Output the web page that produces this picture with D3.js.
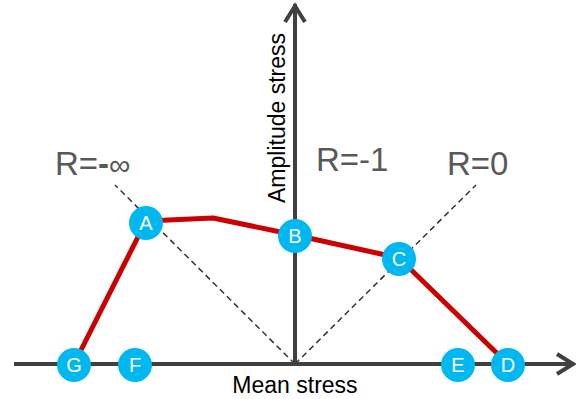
<!DOCTYPE html>
<html>
<head>
<meta charset="utf-8">
<script src="https://cdn.jsdelivr.net/npm/d3@7"></script>
<style>
  html, body { margin: 0; padding: 0; background: #fff; }
  svg { display: block; font-family: "Liberation Sans", Arial, sans-serif; }
</style>
</head>
<body>
<svg id="chart" width="576" height="399"></svg>
<script>
// Haigh diagram: mean stress (x) vs amplitude stress (y), origin at R = -1 axis
const limitPoints = [          // fatigue limit line, left to right
  { x: -2.21, y: 0.00 },       // G
  { x: -1.49, y: 1.43 },       // A
  { x: -0.82, y: 1.46 },
  { x:  0.00, y: 1.29 },       // B
  { x:  1.04, y: 1.06 },       // C
  { x:  2.13, y: 0.00 }        // D
];
const markerLabels = ["A", "B", "C", "D", "E", "F", "G"];
const markerX = [-1.49, 0.00, 1.04, 2.13, 1.63, -1.60, -2.21];
const markerY = [ 1.42, 1.29, 1.06, 0.00, 0.00,  0.00,  0.00];
const ratioLines = [           // constant stress-ratio rays from the origin
  { x: -1.80, y: 1.79 },
  { x:  1.81, y: 1.79 }
];
const ratioLabels = ["R=-∞", "R=-1", "R=0"];
const ratioLabelX = [-2.40, 0.21, 1.52];
const ratioLabelY = [ 1.89, 1.93, 1.89];
const xTitle = "Mean stress";
const yTitle = "Amplitude stress";

const svg = d3.select("#chart");
const x = d3.scaleLinear().domain([-2.81, 2.80]).range([14, 575]);
const y = d3.scaleLinear().domain([0, 3.61]).range([364, 3]);

const axisColor = "#404040";

// dashed R rays
svg.append("g").selectAll("line").data(ratioLines).join("line")
  .attr("x1", x(0)).attr("y1", y(0))
  .attr("x2", d => x(d.x)).attr("y2", d => y(d.y))
  .attr("stroke", "#333").attr("stroke-width", 1.5)
  .attr("stroke-dasharray", "6,4");

// axes with arrow heads
const axes = svg.append("g").attr("stroke", axisColor).attr("stroke-width", 4)
  .attr("fill", "none").attr("stroke-linecap", "butt");
axes.append("line").attr("x1", x(-2.81)).attr("y1", y(0)).attr("x2", x(2.79)).attr("y2", y(0));
axes.append("path").attr("stroke-linejoin", "miter")
  .attr("d", `M${x(2.80) - 18},${y(0) - 10}L${x(2.80) - 2},${y(0)}L${x(2.80) - 18},${y(0) + 10}`);
axes.append("line").attr("x1", x(0)).attr("y1", y(0) + 2).attr("x2", x(0)).attr("y2", y(3.60));
axes.append("path").attr("stroke-linejoin", "miter")
  .attr("d", `M${x(0) - 10},${y(3.61) + 19}L${x(0)},${y(3.61) + 3}L${x(0) + 10},${y(3.61) + 19}`);

// fatigue limit line
svg.append("path").datum(limitPoints)
  .attr("d", d3.line().x(d => x(d.x)).y(d => y(d.y)))
  .attr("fill", "none").attr("stroke", "#CC0000").attr("stroke-width", 5)
  .attr("stroke-linejoin", "round");

// labelled markers
const markers = svg.append("g").selectAll("g").data(markerLabels).join("g")
  .attr("transform", (d, i) => `translate(${x(markerX[i])},${y(markerY[i]) + 1})`);
markers.append("circle").attr("r", 17).attr("fill", "#00B8F0");
markers.append("text").text(d => d)
  .attr("text-anchor", "middle").attr("dy", "0.36em")
  .attr("fill", "#fff").attr("font-size", 20);

// R labels
svg.append("g").selectAll("text").data(ratioLabels).join("text")
  .attr("x", (d, i) => x(ratioLabelX[i])).attr("y", (d, i) => y(ratioLabelY[i]))
  .attr("fill", "#595959").attr("font-size", 33)
  .each(function (d) {
    const t = d3.select(this);
    if (d.includes("∞")) {
      t.append("tspan").text("R=");
      t.append("tspan").text("-").attr("font-weight", "bold");
      t.append("tspan").text("∞").attr("font-size", 30);
    } else {
      t.text(d);
    }
  });

// axis titles
svg.append("text").text(xTitle)
  .attr("x", x(0)).attr("y", 393).attr("text-anchor", "middle")
  .attr("font-size", 23).attr("fill", "#000");
svg.append("text").text(yTitle)
  .attr("transform", `translate(${x(0) - 10},${33}) rotate(-90)`)
  .attr("text-anchor", "end")
  .attr("font-size", 23).attr("fill", "#000");
</script>
</body>
</html>
